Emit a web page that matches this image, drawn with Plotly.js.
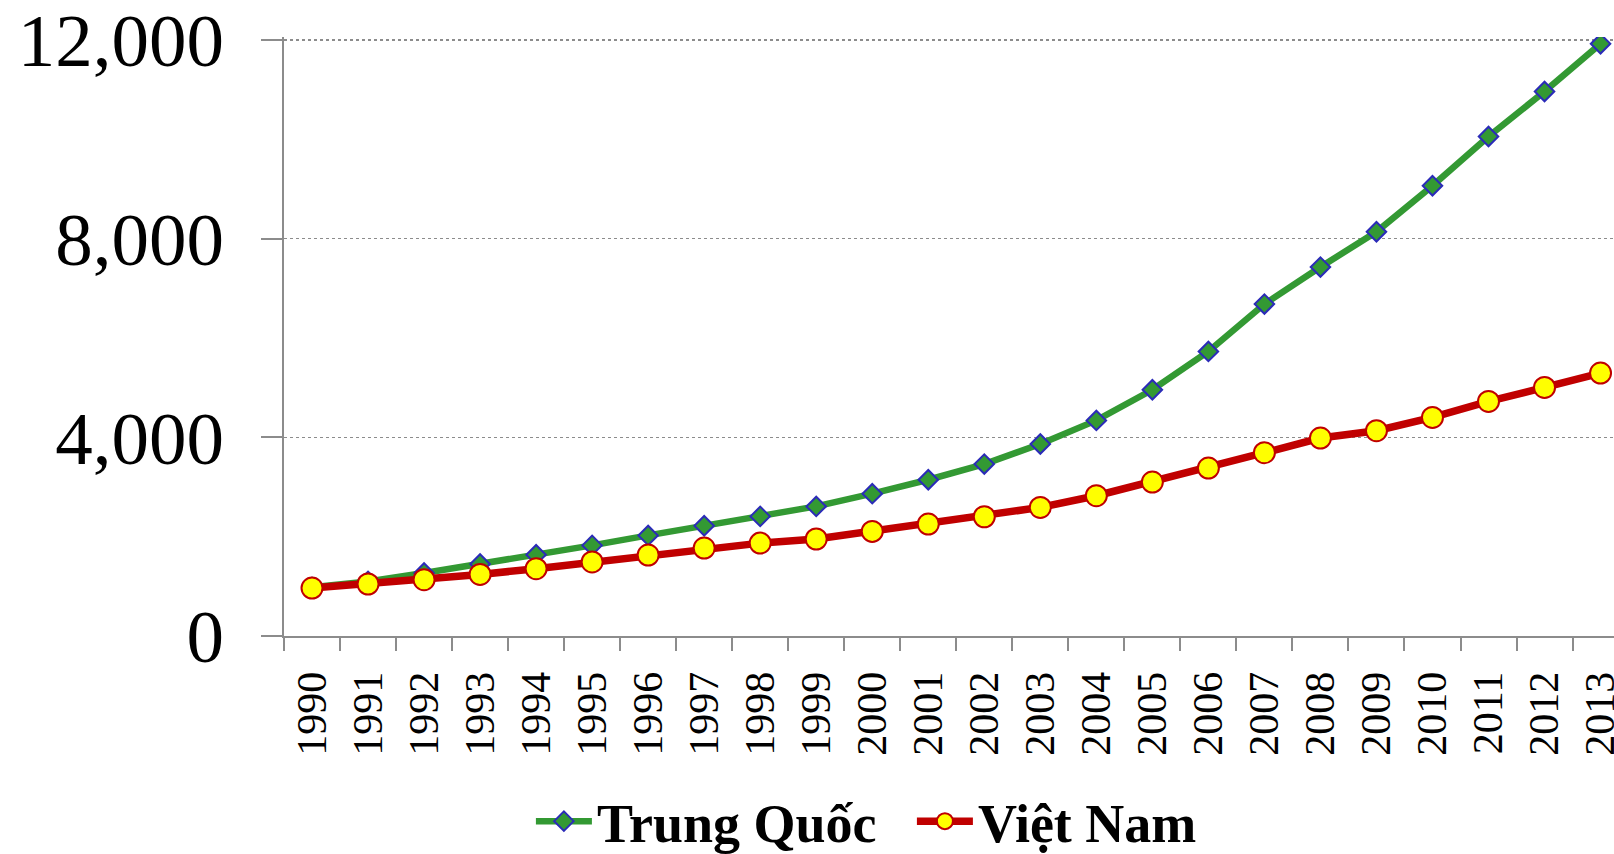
<!DOCTYPE html>
<html>
<head>
<meta charset="utf-8">
<script src="https://cdn.plot.ly/plotly-3.0.1.min.js"></script>
<style>
  html, body { margin: 0; padding: 0; background: #ffffff; }
  #chart { width: 1614px; height: 854px; }
</style>
</head>
<body>
<div id="chart"></div>
<script>
const years = ["1990","1991","1992","1993","1994","1995","1996","1997","1998","1999","2000","2001","2002","2003","2004","2005","2006","2007","2008","2009","2010","2011","2012","2013"];
const trungQuoc = [980, 1100, 1270, 1449, 1637, 1824, 2025, 2220, 2408, 2609, 2865, 3146, 3462, 3865, 4340, 4958, 5729, 6683, 7428, 8139, 9065, 10057, 10963, 11923];
const vietNam = [966, 1047, 1133, 1240, 1355, 1490, 1630, 1771, 1870, 1953, 2106, 2254, 2401, 2589, 2824, 3100, 3382, 3690, 3986, 4133, 4400, 4723, 5004, 5294];
const yTicks = [0, 4000, 8000, 12000];

const serif = 'Liberation Serif, Times New Roman, serif';

const traces = [
  {
    type: 'scatter', mode: 'lines+markers', name: 'Trung Quốc',
    x: years, y: trungQuoc,
    line: { color: '#339933', width: 6.5 },
    marker: { symbol: 'diamond', size: 15, color: '#339933', line: { color: '#2B2BB8', width: 2 } }
  },
  {
    type: 'scatter', mode: 'lines+markers', name: 'Việt Nam',
    x: years, y: vietNam,
    line: { color: '#C00000', width: 7.5 },
    marker: { symbol: 'circle', size: 21, color: '#FFFF00', line: { color: '#C00000', width: 2 } }
  }
];

const layout = {
  width: 1614, height: 854,
  font: { family: serif, color: '#000000' },
  margin: { l: 284, r: 0, t: 37, b: 217.5, pad: 0 },
  paper_bgcolor: '#ffffff', plot_bgcolor: '#ffffff',
  showlegend: true,
  legend: {
    orientation: 'h', xref: 'container', yref: 'container',
    x: 0.565, xanchor: 'center', y: 0.038, yanchor: 'middle',
    font: { family: serif, size: 54, color: '#000000', weight: 'bold' },
    itemwidth: 56, entrywidth: 310, bgcolor: 'rgba(0,0,0,0)'
  },
  xaxis: {
    type: 'category', range: [-0.5, 23.24],
    showline: true, linecolor: '#8c8c8c', linewidth: 2,
    ticks: 'outside', ticklen: 13, tickwidth: 2, tickcolor: '#8c8c8c',
    tickson: 'boundaries', tickangle: -90, ticklabelstandoff: 17,
    ticklabeloverflow: 'allow',
    tickfont: { family: serif, size: 42, color: '#000000' },
    showgrid: false, zeroline: false, fixedrange: true, automargin: false
  },
  yaxis: {
    range: [0, 12060], tickvals: yTicks, tickformat: ',d',
    showline: true, linecolor: '#8c8c8c', linewidth: 2,
    ticks: 'outside', ticklen: 21, tickwidth: 2, tickcolor: '#8c8c8c',
    ticklabelstandoff: 22, ticklabeloverflow: 'allow',
    tickfont: { family: serif, size: 75, color: '#000000' },
    showgrid: true, gridcolor: '#8c8c8c', gridwidth: 1.5, griddash: 'dot',
    zeroline: false, fixedrange: true, automargin: false
  }
};

Plotly.newPlot('chart', traces, layout, { displayModeBar: false, staticPlot: true });
</script>
</body>
</html>
